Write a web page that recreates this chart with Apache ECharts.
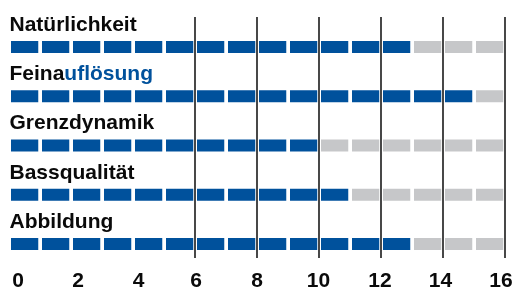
<!DOCTYPE html>
<html>
<head>
<meta charset="utf-8">
<script src="https://cdn.jsdelivr.net/npm/echarts@6/dist/echarts.min.js"></script>
<style>
html,body{margin:0;padding:0;background:#fff;}
#c{width:514px;height:287px;}
</style>
</head>
<body>
<div id="c"></div>
<script>
var categories = ['Natürlichkeit', 'Feinauflösung', 'Grenzdynamik', 'Bassqualität', 'Abbildung'];
var scores = [13, 15, 10, 11, 13];
var blueFrom = [null, 5, null, null, null]; // index in label where blue text starts
var maxScore = 16;
var tickValues = [0, 2, 4, 6, 8, 10, 12, 14, 16];
var gridLineValues = [6, 8, 10, 12, 14, 16];

var BLUE = '#00519c';
var GRAY = '#c6c7c9';
var FONT = '"Liberation Sans", Arial, Helvetica, sans-serif';
// horizontal nudges of tick labels (px), styling only
var tickNudge = {0: 9.5, 2: 7.5, 4: 6, 6: 1.5, 8: 0.5, 10: 0, 12: -0.5, 14: -2, 16: -3.5};

var tickRich = {};
tickValues.forEach(function (v) {
  var n = tickNudge[v] || 0;
  tickRich['t' + v] = {
    color: '#0a0a0a', fontSize: 21, fontWeight: 'bold', fontFamily: FONT,
    padding: n >= 0 ? [0, 0, 0, 2 * n] : [0, -2 * n, 0, 0]
  };
});

var chart = echarts.init(document.getElementById('c'), null, {renderer: 'canvas'});

var seriesData = categories.map(function (c, i) { return [i, scores[i]]; });

chart.setOption({
  animation: false,
  backgroundColor: '#fff',
  grid: [
    {left: 8.5, right: 9.5, top: 22.375, bottom: 18.375, outerBoundsMode: 'none', containLabel: false},
    {left: 8.5, right: 9.5, top: 17, bottom: 29, outerBoundsMode: 'none', containLabel: false}
  ],
  xAxis: [
    {gridIndex: 0, type: 'value', min: 0, max: maxScore, show: false},
    {gridIndex: 1, type: 'value', min: 0, max: maxScore, interval: 2,
     axisLine: {show: false}, axisTick: {show: false}, splitLine: {show: false},
     axisLabel: {
       margin: 13, color: '#0a0a0a', fontSize: 21, fontWeight: 'bold', fontFamily: FONT,
       formatter: function (v) { return tickValues.indexOf(v) >= 0 ? '{t' + v + '|' + v + '}' : ''; },
       rich: tickRich
     }}
  ],
  yAxis: [
    {gridIndex: 0, type: 'category', data: categories, inverse: true,
     axisLine: {show: false}, axisTick: {show: false}, splitLine: {show: false},
     axisLabel: {
       inside: true, margin: 1, verticalAlign: 'bottom', padding: [0, 0, 10, 0],
       formatter: function (v, i) {
         var k = blueFrom[i];
         if (k != null) return '{k|' + v.slice(0, k) + '}{b|' + v.slice(k) + '}';
         return '{k|' + v + '}';
       },
       rich: {
         k: {color: '#0a0a0a', fontSize: 21, fontWeight: 'bold', fontFamily: FONT, lineHeight: 24},
         b: {color: BLUE, fontSize: 21, fontWeight: 'bold', fontFamily: FONT, lineHeight: 24}
       }
     }},
    {gridIndex: 1, type: 'value', min: 0, max: 1, show: false}
  ],
  series: [
    {
      type: 'custom',
      xAxisIndex: 0, yAxisIndex: 0,
      data: seriesData,
      renderItem: function (params, api) {
        var cat = api.value(0);
        var val = api.value(1);
        var children = [];
        for (var s = 0; s < maxScore; s++) {
          var p0 = api.coord([s + 0.08, cat]);
          var p1 = api.coord([s + 0.96, cat]);
          children.push({
            type: 'rect',
            shape: {x: p0[0], y: p0[1] - 6, width: p1[0] - p0[0], height: 12},
            style: {fill: s < val ? BLUE : GRAY}
          });
        }
        return {type: 'group', children: children};
      }
    },
    {
      type: 'line', xAxisIndex: 1, yAxisIndex: 1, data: [], z: 5,
      markLine: {
        silent: true, symbol: ['none', 'none'],
        label: {show: false},
        lineStyle: {color: '#1a1a1a', width: 1.6, type: 'solid'},
        data: gridLineValues.map(function (v) { return {xAxis: v}; })
      }
    }
  ]
});
</script>
</body>
</html>
